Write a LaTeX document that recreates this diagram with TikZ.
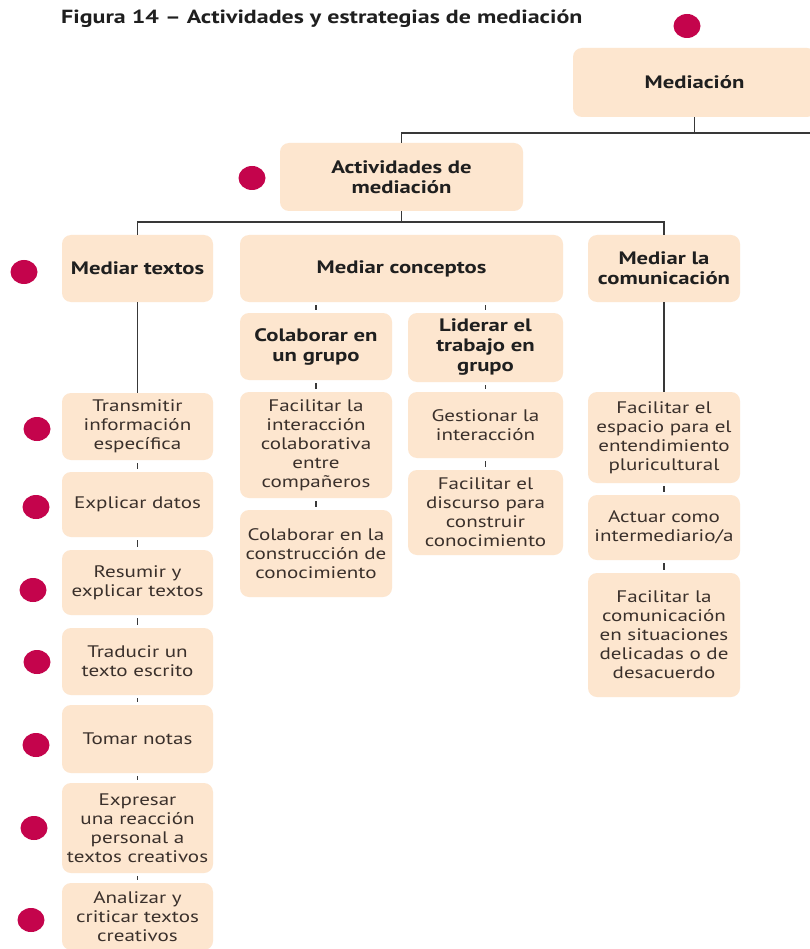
\documentclass[tikz,border=0pt]{standalone}
\usepackage{fontspec}
\setmainfont{PT Sans}[FakeStretch=1.26]
\usetikzlibrary{shapes.geometric}
\definecolor{boxfill}{HTML}{FDE6CF}
\definecolor{dotcol}{HTML}{C4044C}
\definecolor{linecol}{HTML}{383838}
\definecolor{txt}{HTML}{3A302B}
\begin{document}
\begin{tikzpicture}[x=1pt,y=-1pt,
 box/.style={rectangle, rounded corners=9pt, fill=boxfill, align=center, inner sep=0pt, font=\fontsize{16.7}{19}\selectfont, text=txt},
 hbox/.style={box, font=\fontsize{18}{20}\selectfont\bfseries, text=black!88},
 dot/.style={ellipse, fill=dotcol, minimum width=27pt, minimum height=24pt, inner sep=0pt},
 conn/.style={draw=linecol, line width=1.7pt},
 tick/.style={conn, shorten <=3pt, shorten >=3pt}]
\useasboundingbox (0,0) rectangle (809,949);
\fill[white] (0,0) rectangle (809,949);

\node[anchor=base west, inner sep=0pt, font=\fontsize{19}{22}\selectfont\bfseries, text=black!88] (title) at (61,24) {Figura 14 – Actividades y estrategias de mediación};

% top levels
\node[hbox, minimum width=243pt, minimum height=69pt] (med) at (694.5,82.5) {Mediación};
\node[hbox, minimum width=243pt, minimum height=68pt] (act) at (401.5,177) {Actividades de\\mediación};
\node[hbox, minimum width=151pt, minimum height=67pt] (mt) at (137.5,268.5) {Mediar textos};
\node[hbox, minimum width=323pt, minimum height=67pt] (mc) at (401.5,268.5) {Mediar conceptos};
\node[hbox, minimum width=152pt, minimum height=67pt] (mlc) at (664,268.5) {Mediar la\\comunicación};

% left column
\node[box, minimum width=151pt, minimum height=67pt] (t1) at (137.5,426.5) {Transmitir\\información\\específica};
\node[box, minimum width=151pt, minimum height=65pt] (t2) at (137.5,504.5) {Explicar datos};
\node[box, minimum width=151pt, minimum height=65pt] (t3) at (137.5,582.5) {Resumir y\\explicar textos};
\node[box, minimum width=151pt, minimum height=67pt] (t4) at (137.5,661.5) {Traducir un\\texto escrito};
\node[box, minimum width=151pt, minimum height=68pt] (t5) at (137.5,739) {Tomar notas};
\node[box, minimum width=151pt, minimum height=90pt] (t6) at (137.5,828) {Expresar\\una reacción\\personal a\\textos creativos};
\node[box, minimum width=151pt, minimum height=67pt] (t7) at (137.5,916.5) {Analizar y\\criticar textos\\creativos};

% column 2
\node[hbox, minimum width=152pt, minimum height=67pt] (c1) at (316,346.5) {Colaborar en\\un grupo};
\node[box, minimum width=152pt, minimum height=106pt] (c2) at (316,445) {Facilitar la\\interacción\\colaborativa\\entre\\compañeros};
\node[box, minimum width=152pt, minimum height=87pt] (c3) at (316,553.5) {Colaborar en la\\construcción de\\conocimiento};

% column 3
\node[hbox, minimum width=155pt, minimum height=69pt] (l1) at (485.5,347.5) {Liderar el\\trabajo en\\grupo};
\node[box, minimum width=155pt, minimum height=66pt] (l2) at (485.5,425) {Gestionar la\\interacción};
\node[box, minimum width=155pt, minimum height=85pt] (l3) at (485.5,512.5) {Facilitar el\\discurso para\\construir\\conocimiento};

% column 4
\node[box, minimum width=152pt, minimum height=91pt] (m1) at (664,437.5) {Facilitar el\\espacio para el\\entendimiento\\pluricultural};
\node[box, minimum width=152pt, minimum height=65pt] (m2) at (664,527.5) {Actuar como\\intermediario/a};
\node[box, minimum width=152pt, minimum height=124pt] (m3) at (664,635) {Facilitar la\\comunicación\\en situaciones\\delicadas o de\\desacuerdo};

% dots
\node[dot] (d0) at (687,26) {};
\node[dot] (d1) at (252,178) {};
\node[dot] (d2) at (24,272) {};
\node[dot] (d3) at (37,429) {};
\node[dot] (d4) at (36,507) {};
\node[dot] (d5) at (33,590) {};
\node[dot] (d6) at (37,662) {};
\node[dot] (d7) at (36,745) {};
\node[dot] (d8) at (34,828) {};
\node[dot] (d9) at (31,920) {};

% connectors
\coordinate (hA) at (0,133);
\coordinate (hAr) at (820,133);
\coordinate (hB) at (0,222);
\draw[conn] (med.south) -- (med.south |- hA);
\draw[conn] (act.north) |- (hAr);
\draw[conn] (act.south) -- (act.south |- hB);
\draw[conn] (mt.north) |- (mlc.north |- hB) -- (mlc.north);

\draw[conn] (mt.south) -- (t1.north);
\draw[tick] (t1.south) -- (t2.north);
\draw[tick] (t2.south) -- (t3.north);
\draw[tick] (t3.south) -- (t4.north);
\draw[tick] (t4.south) -- (t5.north);
\draw[tick] (t5.south) -- (t6.north);
\draw[tick] (t6.south) -- (t7.north);

\draw[tick] (mc.south -| c1.north) -- (c1.north);
\draw[tick] (c1.south) -- (c2.north);
\draw[tick] (c2.south) -- (c3.north);

\draw[tick] (mc.south -| l1.north) -- (l1.north);
\draw[tick] (l1.south) -- (l2.north);
\draw[tick] (l2.south) -- (l3.north);

\draw[conn] (mlc.south) -- (m1.north);
\draw[tick] (m1.south) -- (m2.north);
\draw[tick] (m2.south) -- (m3.north);
\end{tikzpicture}
\end{document}
